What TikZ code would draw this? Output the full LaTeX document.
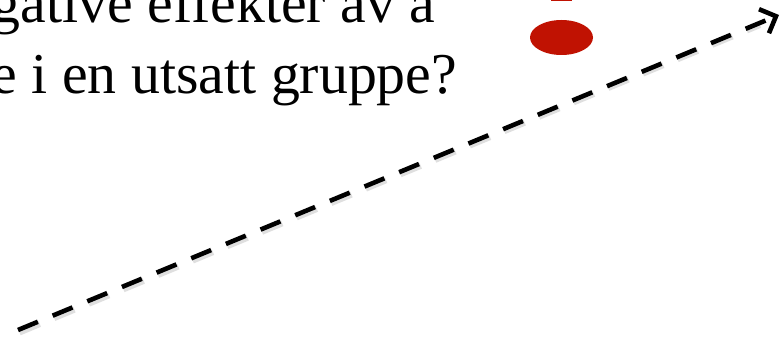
\documentclass[tikz,border=0pt]{standalone}
\usepackage{fontspec}
\setmainfont{Liberation Serif}
\usetikzlibrary{arrows.meta,shapes.geometric}
\definecolor{darkred}{RGB}{192,18,2}
\tikzset{
  slidetext/.style={anchor=base west, inner sep=0pt, font=\fontsize{57.8}{62}\selectfont},
  redshape/.style={fill=darkred, draw=none},
  dasharrow/.style={line width=4.6pt, dash pattern=on 21.5pt off 16pt, -{Straight Barb[length=13pt,width=26pt,line width=4.6pt]}},
  dashshadow/.style={line width=6pt, black!25, opacity=0.5, dash pattern=on 22pt off 15.5pt}
}
\begin{document}
\begin{tikzpicture}[x=1pt,y=1pt]
\useasboundingbox (0,0) rectangle (782,337);
\node[slidetext] (l1) at (-8.5,314) {gative effekter av å};
\node[slidetext] (l2) at (-8.5,243.5) {e i en utsatt gruppe?};
\node[redshape, ellipse, minimum width=63pt, minimum height=35pt, inner sep=0pt] (dot) at (561.5,299.5) {};
\node[redshape, rectangle, minimum width=21pt, minimum height=6pt, inner sep=0pt, anchor=south] (bar) at (561.5,335.5) {};
\coordinate (s) at (18,7);
\coordinate (e) at (779,322);
\coordinate (ss) at (19.5,4.5);
\coordinate (es) at (760,312);
\draw[dashshadow] (ss) -- (es);
\draw[dasharrow] (s) -- (e);
\end{tikzpicture}
\end{document}
